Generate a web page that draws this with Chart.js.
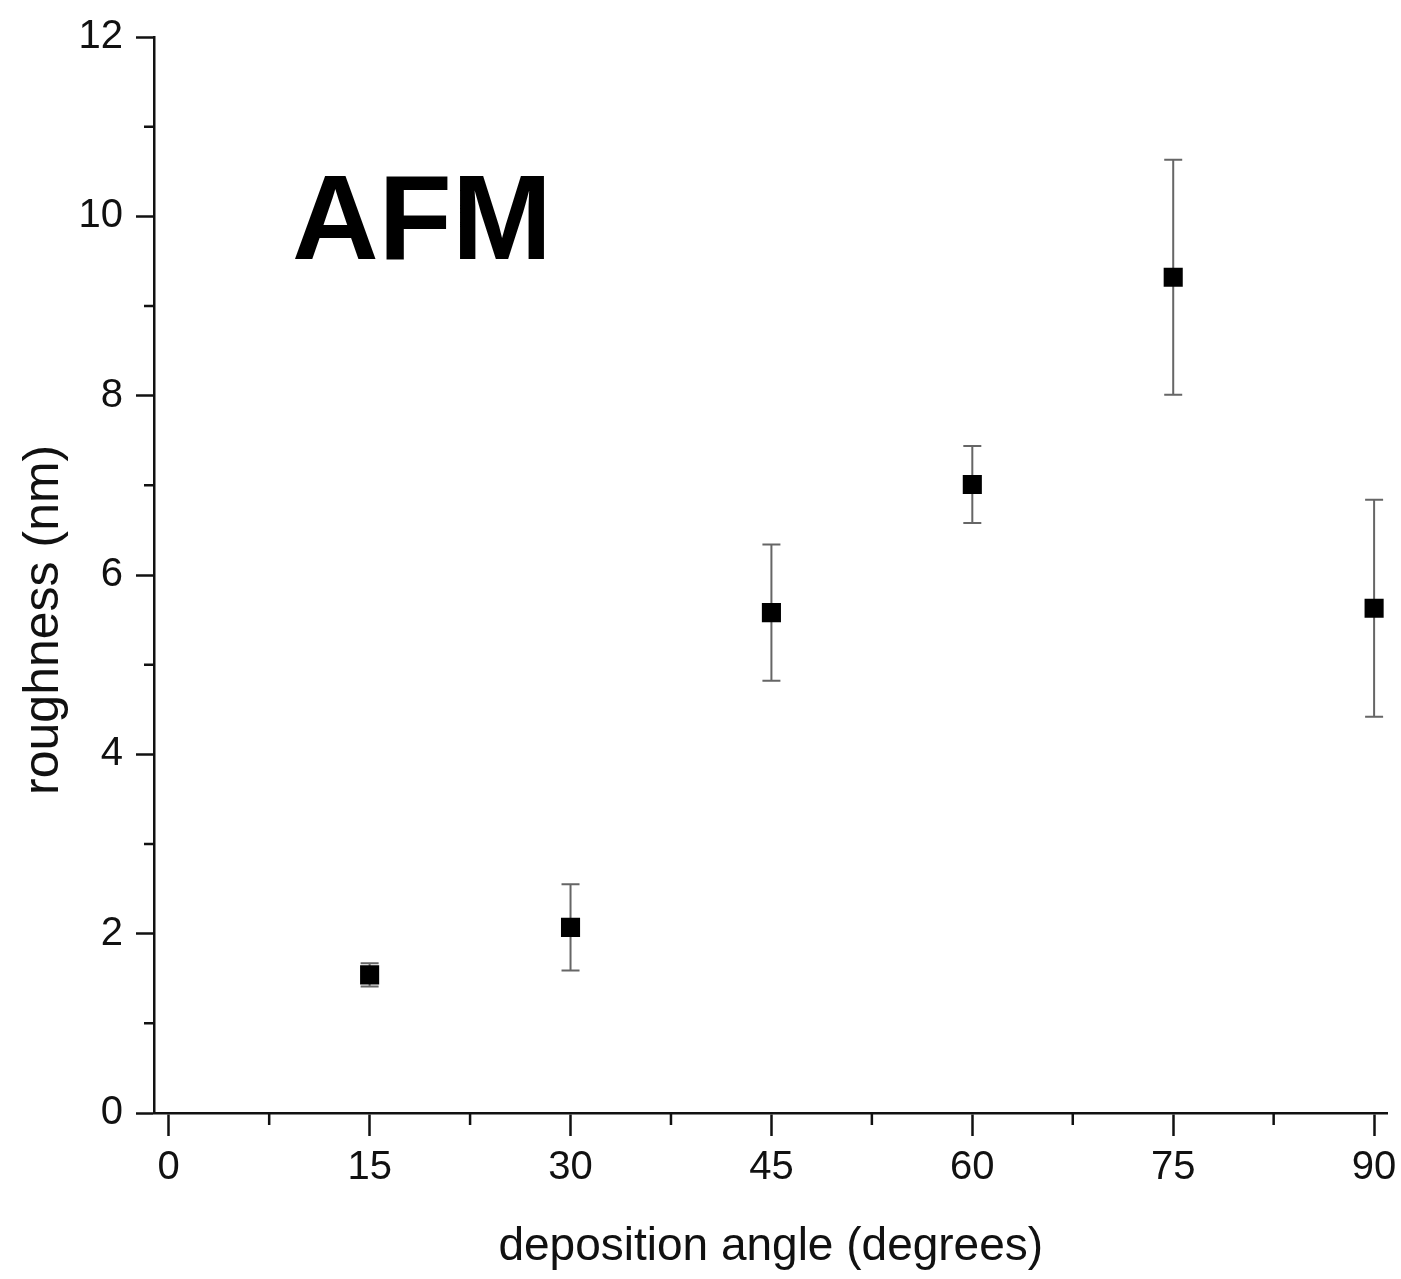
<!DOCTYPE html>
<html>
<head>
    <title>AFM roughness vs deposition angle</title>
    <meta charset="UTF-8"/>
    <script src="https://cdn.jsdelivr.net/npm/chart.js@4/dist/chart.umd.min.js"></script>
    <style>
        html, body {
            margin: 0;
            padding: 0;
            background: #fff;
        }
        #wrap {
            width: 1401px;
            height: 1279px;
        }
    </style>
</head>
<body>
<div id="wrap">
    <canvas id="canvas"></canvas>
</div>
<script>
    // data
    var angles    = [15, 30, 45, 60, 75, 90];
    var roughness = [1.54, 2.07, 5.58, 7.01, 9.32, 5.63];
    var errors    = [0.13, 0.48, 0.76, 0.43, 1.31, 1.21];

    var xTicks = [0, 15, 30, 45, 60, 75, 90];
    var xMinor = [7.5, 22.5, 37.5, 52.5, 67.5, 82.5];
    var yMinor = [1, 3, 5, 7, 9, 11];

    var FONT = '"Liberation Sans", Arial, sans-serif';

    // error bars, drawn under the squares
    var errorBars = {
        id: 'errorBars',
        beforeDatasetsDraw: function(chart) {
            var ctx = chart.ctx;
            var xs = chart.scales.x, ys = chart.scales.y;
            ctx.save();
            ctx.strokeStyle = '#666';
            ctx.lineWidth = 2;
            for (var i = 0; i < angles.length; i++) {
                var px = xs.getPixelForValue(angles[i]);
                var top = ys.getPixelForValue(roughness[i] + errors[i]);
                var bot = ys.getPixelForValue(roughness[i] - errors[i]);
                ctx.beginPath();
                ctx.moveTo(px, top); ctx.lineTo(px, bot);
                ctx.moveTo(px - 9, top); ctx.lineTo(px + 9, top);
                ctx.moveTo(px - 9, bot); ctx.lineTo(px + 9, bot);
                ctx.stroke();
            }
            ctx.restore();
        }
    };

    // short minor ticks, the y title and the AFM label
    var extras = {
        id: 'extras',
        afterDraw: function(chart) {
            var ctx = chart.ctx;
            var xs = chart.scales.x, ys = chart.scales.y;
            var area = chart.chartArea;
            ctx.save();
            ctx.strokeStyle = '#111';
            ctx.lineWidth = 2.5;
            ctx.beginPath();
            xMinor.forEach(function(v) {
                var px = xs.getPixelForValue(v);
                ctx.moveTo(px, area.bottom); ctx.lineTo(px, area.bottom + 12);
            });
            yMinor.forEach(function(v) {
                var py = ys.getPixelForValue(v);
                ctx.moveTo(area.left, py); ctx.lineTo(area.left - 10, py);
            });
            ctx.stroke();

            // y axis title, sits a bit below the middle in the original
            ctx.save();
            ctx.translate(44, ys.getPixelForValue(5.5));
            ctx.rotate(-Math.PI / 2);
            ctx.fillStyle = '#111';
            ctx.font = '50px ' + FONT;
            ctx.textAlign = 'center';
            ctx.textBaseline = 'middle';
            ctx.fillText('roughness (nm)', 0, 0);
            ctx.restore();

            ctx.fillStyle = '#000';
            ctx.font = 'bold 120px ' + FONT;
            ctx.textBaseline = 'alphabetic';
            ctx.textAlign = 'left';
            ctx.fillText('AFM', xs.getPixelForValue(9.2), ys.getPixelForValue(9.52));
            ctx.restore();
        }
    };

    var context = document.getElementById('canvas').getContext('2d');
    var chart = new Chart(context, {
        type: 'scatter',
        data: {
            datasets: [{
                data: angles.map(function(a, i) { return {x: a, y: roughness[i]}; }),
                pointStyle: 'rect',
                pointRadius: 13.5,
                backgroundColor: '#000',
                borderColor: '#000',
                borderWidth: 0
            }]
        },
        options: {
            responsive: true,
            maintainAspectRatio: false,
            animation: false,
            layout: { padding: { top: 34, right: 12, left: 0, bottom: 0 } },
            plugins: {
                legend: { display: false },
                tooltip: { enabled: false }
            },
            scales: {
                x: {
                    type: 'linear',
                    min: -1.1,
                    max: 91,
                    afterBuildTicks: function(scale) {
                        scale.ticks = xTicks.map(function(v) { return {value: v}; });
                    },
                    afterFit: function(scale) {
                        scale.height = 166;
                        // let the "90" label hang past the axis end
                        scale.paddingLeft = 0;
                        scale.paddingRight = 0;
                    },
                    grid: {
                        drawOnChartArea: false,
                        tickLength: 23,
                        tickWidth: 2.5,
                        tickColor: '#111'
                    },
                    border: { color: '#111', width: 2.5 },
                    ticks: {
                        color: '#111',
                        padding: 8,
                        maxRotation: 0,
                        font: { family: FONT, size: 40 }
                    },
                    title: {
                        display: true,
                        text: 'deposition angle (degrees)',
                        color: '#111',
                        padding: { top: 4, bottom: 4 },
                        font: { family: FONT, size: 46 }
                    }
                },
                y: {
                    min: 0,
                    max: 12,
                    afterFit: function(scale) { scale.width = 154; },
                    grid: {
                        drawOnChartArea: false,
                        tickLength: 18,
                        tickWidth: 2.5,
                        tickColor: '#111'
                    },
                    border: { color: '#111', width: 2.5 },
                    ticks: {
                        stepSize: 2,
                        color: '#111',
                        padding: 13,
                        font: { family: FONT, size: 40 }
                    },
                    title: { display: false }
                }
            }
        },
        plugins: [errorBars, extras]
    });
</script>
</body>
</html>
